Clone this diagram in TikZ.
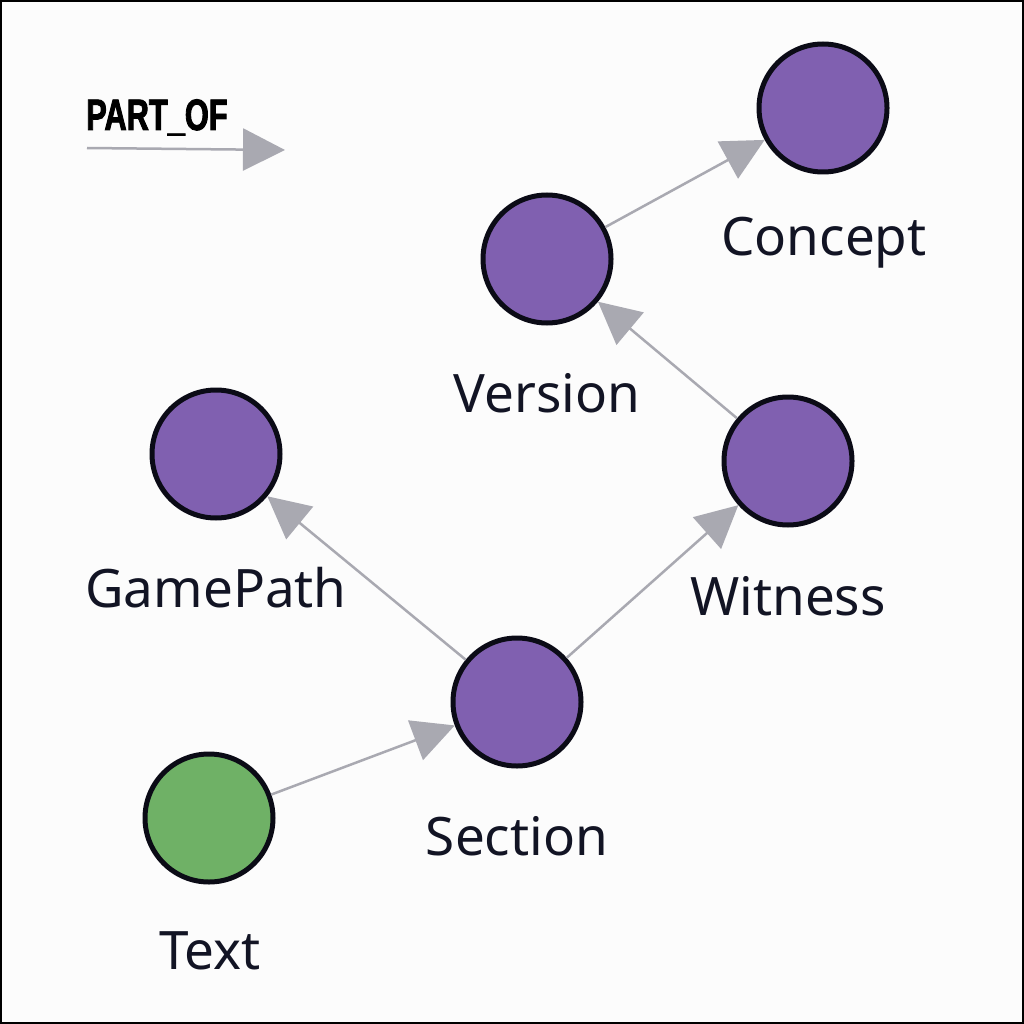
\documentclass[tikz,border=0pt]{standalone}
\usepackage{fontspec}
\setmainfont{Noto Sans}
\newfontfamily\legendfont[FakeStretch=0.7,FakeBold=2]{Liberation Sans Bold}
\usetikzlibrary{arrows.meta}
\definecolor{bgc}{HTML}{FCFCFC}
\definecolor{purp}{HTML}{8060B0}
\definecolor{grn}{HTML}{6FB166}
\definecolor{edgec}{HTML}{A9A9B1}
\definecolor{rimc}{HTML}{0B0B16}
\definecolor{txtc}{HTML}{121424}
\tikzset{
  ent/.style={circle, draw=rimc, line width=5pt, fill=purp, minimum size=128pt, inner sep=0pt, outer sep=2.5pt},
  txt/.style={circle, draw=rimc, line width=5pt, fill=grn, minimum size=128pt, inner sep=0pt, outer sep=2.5pt},
  lbl/.style={text=txtc, font=\fontsize{53}{60}\selectfont, inner sep=0pt},
  rel/.style={draw=edgec, line width=2.5pt, -{Triangle[length=42pt,width=42pt]}, fill=edgec},
}
\begin{document}
\begin{tikzpicture}[x=1pt,y=-1pt]
\useasboundingbox (0,0) rectangle (1024,1024);
\fill[bgc] (0,0) rectangle (1024,1024);
\draw[black, line width=2pt] (1,1) rectangle (1023,1023);
% legend
\node[anchor=base west, inner sep=0pt, text=black, font=\legendfont\fontsize{44}{48}\selectfont] (legtxt) at (86,130) {PART\_OF};
\coordinate (legA) at (87,148);
\coordinate (legB) at (285,150);
\draw[rel] (legA) -- (legB);
% nodes
\node[ent] (concept) at (823,108) {};
\node[ent] (version) at (547,259) {};
\node[ent] (gamepath) at (216,454) {};
\node[ent] (witness) at (788,461) {};
\node[ent] (section) at (517,702) {};
\node[txt] (text) at (209,818) {};
% labels
\node[lbl] (lconcept) at (824,243) {Concept};
\node[lbl] (lversion) at (547,393) {Version};
\node[lbl] (lgamepath) at (216,588) {GamePath};
\node[lbl] (lwitness) at (788,596) {Witness};
\node[lbl] (lsection) at (517,836) {Section};
\node[lbl] (ltext) at (210,951) {Text};
% edges
\draw[rel] (version) -- (concept);
\draw[rel] (witness) -- (version);
\draw[rel] (section) -- (gamepath);
\draw[rel] (section) -- (witness);
\draw[rel] (text) -- (section);
\end{tikzpicture}
\end{document}
